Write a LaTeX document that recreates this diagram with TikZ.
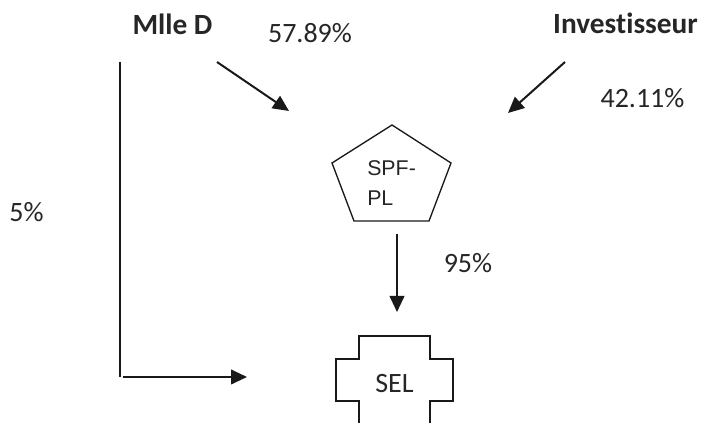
\documentclass[tikz,border=0pt]{standalone}
\usepackage{fontspec}
\setmainfont[Ligatures=NoCommon]{Carlito}
\newfontfamily\arialf{Liberation Sans}
\usetikzlibrary{arrows.meta}
\begin{document}
\begin{tikzpicture}[x=0.75pt,y=-0.75pt,
  lbl/.style={font=\fontsize{21}{25}\selectfont, text=black!85, inner sep=0, anchor=base},
  boldlbl/.style={lbl, font=\fontsize{22}{26}\selectfont\bfseries},
  conn/.style={line width=1.5pt, draw=black!90, -{Triangle[length=12pt,width=11pt]}},
  plainline/.style={line width=1.5pt, draw=black!90},
  outline/.style={line width=1pt, draw=black!90, line join=miter}]
\useasboundingbox (0,0) rectangle (701,423);
% labels
\node[boldlbl] (mlle) at (172.5,35) {Mlle D};
\node[boldlbl] (inv) at (625.5,34) {Investisseur};
\node[lbl] (p1) at (310,43) {57.89\%};
\node[lbl] (p2) at (642.5,108) {42.11\%};
\node[lbl] (p3) at (26.5,222) {5\%};
\node[lbl] (p4) at (468,273) {95\%};
% pentagon SPF-PL
\coordinate (pt) at (392,125);
\coordinate (pl) at (332,163);
\coordinate (pbl) at (354,221);
\coordinate (pbr) at (429,221);
\coordinate (pr) at (451,163);
\draw[outline] (pt) -- (pl) -- (pbl) -- (pbr) -- (pr) -- cycle;
\node[anchor=north west, align=left, inner sep=0, text=black!85,
  font=\arialf\fontsize{16}{22.5}\selectfont] (spf) at (367,160) {SPF-\\PL};
% SEL shape
\draw[outline] (359,423) -- (359,401) -- (336,401) -- (336,359) -- (359,359)
  -- (359,336) -- (430,336) -- (430,359) -- (453,359) -- (453,401)
  -- (430,401) -- (430,423);
\node[lbl] (sel) at (394.5,393) {SEL};
% connectors
\coordinate (a1s) at (217,62);
\coordinate (a1e) at (289,111);
\coordinate (a2s) at (565,62);
\coordinate (a2e) at (508,113);
\coordinate (a3s) at (397,234);
\coordinate (a3e) at (397,312);
\coordinate (l1) at (120,62);
\coordinate (l2) at (120,377);
\coordinate (a4s) at (123,377);
\coordinate (a4e) at (247,377);
\draw[conn] (a1s) -- (a1e);
\draw[conn] (a2s) -- (a2e);
\draw[conn] (a3s) -- (a3e);
\draw[plainline] (l1) -- (l2);
\draw[conn] (a4s) -- (a4e);
\end{tikzpicture}
\end{document}
